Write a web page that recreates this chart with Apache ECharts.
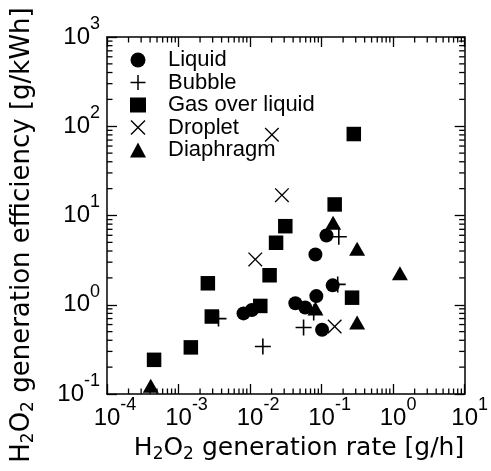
<!DOCTYPE html>
<html><head><meta charset="utf-8">
<script src="https://cdn.jsdelivr.net/npm/echarts@6/dist/echarts.min.js"></script>
<style>html,body{margin:0;padding:0;background:#fff}#c{width:491px;height:471px}</style>
</head><body><div id="c"></div>
<script>
// Axis ranges and tick label exponents
const xRange = [1e-4, 10];
const yRange = [1e-1, 1e3];
const xTickExps = ['-4', '-3', '-2', '-1', '0', '1'];
const yTickExps = ['-1', '0', '1', '2', '3'];
const minorMantissas = [2, 3, 4, 5, 6, 7, 8, 9];

// Series data: [H2O2 generation rate (g/h), efficiency (g/kWh)]
const liquid = [[0.0081, 0.80], [0.0106, 0.875], [0.043, 1.04], [0.059, 0.93], [0.0845, 1.25],
  [0.082, 3.66], [0.117, 5.98], [0.143, 1.65], [0.1016, 0.524]];
const bubble = [[0.00362, 0.70], [0.0151, 0.341], [0.056, 0.556], [0.0776, 0.818], [0.168, 1.69], [0.174, 5.78]];
const gasOverLiquid = [[0.000455, 0.2415], [0.001486, 0.333], [0.00292, 0.738], [0.00257, 1.74], [0.0139, 0.97],
  [0.01875, 2.14], [0.0231, 4.95], [0.0311, 7.59], [0.1524, 13.3], [0.2667, 1.20], [0.282, 81.8]];
const droplet = [[0.0202, 80.4], [0.0279, 16.9], [0.01183, 3.22], [0.1524, 0.570]];
const diaphragm = [[0.000409, 0.124], [0.1449, 8.28], [0.314, 4.25], [1.245, 2.25], [0.314, 0.632], [0.082, 0.91]];

const seriesNames = ['Liquid', 'Bubble', 'Gas over liquid', 'Droplet', 'Diaphragm'];
const xTitle = '{t|H}{u|2}{t|O}{u|2}{t| generation rate [g/h]}';
const yTitle = '{t|H}{u|2}{t|O}{u|2}{t| generation efficiency [g/kWh]}';

const plusPath = 'path://M9,0H11V9H20V11H11V20H9V11H0V9H9Z';
const a = 1.3;
const crossPath = `path://M0,${a}L${a},0L10,${10 - a}L${20 - a},0L20,${a}L${10 + a},10L20,${20 - a}L${20 - a},20L10,${10 + a}L${a},20L0,${20 - a}L${10 - a},10Z`;

const tickFont = 'Liberation Sans, Arial, sans-serif';
const titleFont = 'DejaVu Sans, sans-serif';

function expOf(v) { return String(Math.round(Math.log10(v))); }

const labelRich = {
  b: { fontSize: 24, fontFamily: tickFont, color: '#000', lineHeight: 24, verticalAlign: 'middle' },
  s: { fontSize: 18, fontFamily: tickFont, color: '#000', lineHeight: 18, padding: [0, 0, 26, 0], verticalAlign: 'middle' },
  h: { fontSize: 18, fontFamily: tickFont, color: 'transparent', lineHeight: 18, padding: [0, 0, 26, 0], verticalAlign: 'middle' }
};
const titleRich = size => ({
  t: { fontSize: size, fontFamily: titleFont, color: '#000', lineHeight: 30, verticalAlign: 'middle' },
  u: { fontSize: 17, fontFamily: titleFont, color: '#000', lineHeight: 16, verticalAlign: 'bottom' }
});

function makeAxis(kind, pos, range, showLabel) {
  const ax = {
    type: 'log', logBase: 10, min: range[0], max: range[1], position: pos,
    axisLine: { show: true, lineStyle: { color: '#000', width: 1.5 } },
    axisTick: { show: true, inside: true, length: 10, lineStyle: { color: '#000', width: 1.3 } },
    minorTick: { show: false },
    splitLine: { show: false },
    axisLabel: { show: false }
  };
  if (showLabel) {
    if (kind === 'x') {
      ax.axisLabel = {
        show: true, margin: 12, rich: labelRich,
        formatter: v => { const e = xTickExps.find(t => t === expOf(v)) || expOf(v); return `{h|${e}}{b|10}{s|${e}}`; }
      };
    } else {
      ax.axisLabel = {
        show: true, margin: 7, rich: labelRich,
        formatter: v => { const e = yTickExps.find(t => t === expOf(v)) || expOf(v); return `{b|10}{s|${e}}`; }
      };
    }
  }
  return ax;
}

// minor tick positions (2..9 within each decade), placed on the four frame sides through the axis scales
const xMinor = [], yMinor = [];
for (let e = -4; e < 1; e++) minorMantissas.forEach(m => xMinor.push(m * Math.pow(10, e)));
for (let e = -1; e < 3; e++) minorMantissas.forEach(m => yMinor.push(m * Math.pow(10, e)));
const minorLen = 5.5;
function minorSeries(data, size, offset) {
  return {
    type: 'scatter', data, symbol: 'rect', symbolSize: size, symbolOffset: offset,
    itemStyle: { color: '#000', opacity: 1 }, silent: true, clip: false,
    emphasis: { disabled: true }
  };
}

const chart = echarts.init(document.getElementById('c'), null, { renderer: 'canvas' });
function black() { return { color: '#000', opacity: 1 }; }
chart.setOption({
  animation: false,
  backgroundColor: '#fff',
  grid: { left: 107, right: 25, top: 37, bottom: 77, containLabel: false },
  xAxis: [makeAxis('x', 'bottom', xRange, true), makeAxis('x', 'top', xRange, false)],
  yAxis: [makeAxis('y', 'left', yRange, true), makeAxis('y', 'right', yRange, false)],
  legend: {
    orient: 'vertical', left: 125, top: 44, itemWidth: 16, itemHeight: 15, itemGap: 0.5,
    data: seriesNames,
    textStyle: { fontFamily: tickFont, fontSize: 22, color: '#000', lineHeight: 22, padding: [0, 0, 0, 17] }
  },
  graphic: [
    { type: 'text', x: 299, y: 448, silent: true,
      style: { text: xTitle, rich: titleRich(25), align: 'center', verticalAlign: 'middle' } },
    { type: 'text', x: 22, y: 235, rotation: Math.PI / 2, silent: true,
      style: { text: yTitle, rich: titleRich(26), align: 'center', verticalAlign: 'middle' } }
  ],
  series: [
    minorSeries(xMinor.map(v => [v, yRange[0]]), [1.3, minorLen], [0, -minorLen / 2]),
    minorSeries(xMinor.map(v => [v, yRange[1]]), [1.3, minorLen], [0, minorLen / 2]),
    minorSeries(yMinor.map(v => [xRange[0], v]), [minorLen, 1.3], [minorLen / 2, 0]),
    minorSeries(yMinor.map(v => [xRange[1], v]), [minorLen, 1.3], [-minorLen / 2, 0]),
    { name: seriesNames[0], type: 'scatter', data: liquid, symbol: 'circle', symbolSize: 14, itemStyle: black() },
    { name: seriesNames[1], type: 'scatter', data: bubble, symbol: plusPath, symbolSize: 16, itemStyle: black() },
    { name: seriesNames[2], type: 'scatter', data: gasOverLiquid, symbol: 'rect', symbolSize: 14.5, itemStyle: black() },
    { name: seriesNames[3], type: 'scatter', data: droplet, symbol: crossPath, symbolSize: 14.5, itemStyle: black() },
    { name: seriesNames[4], type: 'scatter', data: diaphragm, symbol: 'triangle', symbolSize: [16, 14], itemStyle: black() }
  ]
});
</script>
</body></html>
